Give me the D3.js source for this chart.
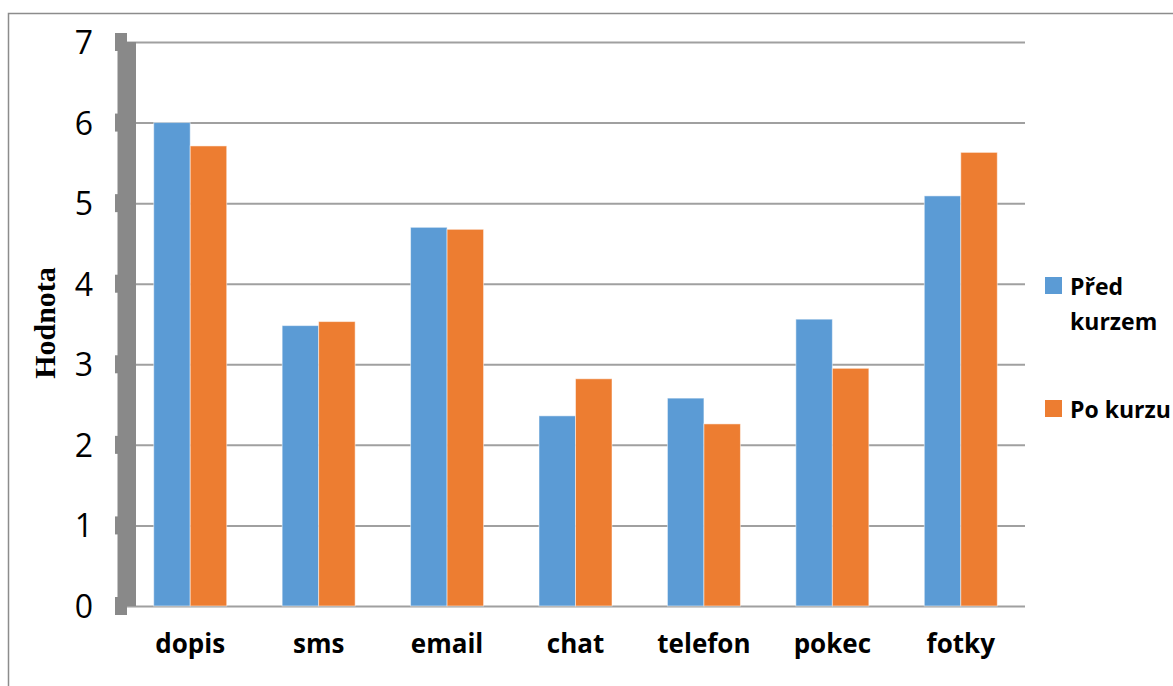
<!DOCTYPE html>
<html>
<head>
<meta charset="utf-8">
<script src="https://cdn.jsdelivr.net/npm/d3@7"></script>
<style>
  body { margin: 0; background: #fff; }
  svg { display: block; }
</style>
</head>
<body>
<div id="chart-area"></div>
<script>
// data
const categories = ["dopis", "sms", "email", "chat", "telefon", "pokec", "fotky"]
const seriesNames = ["Před kurzem", "Po kurzu"]
const predKurzem = [6.0, 3.48, 4.70, 2.36, 2.58, 3.56, 5.09]
const poKurzu = [5.71, 3.53, 4.675, 2.82, 2.26, 2.95, 5.63]
const yTicks = [0, 1, 2, 3, 4, 5, 6, 7]

const colors = ["#5B9BD5", "#ED7D31"]

const W = 1173, H = 686
const MARGIN = { LEFT: 126, RIGHT: 148, TOP: 42, BOTTOM: 80 }

const svg = d3.select("#chart-area").append("svg")
	.attr("width", W)
	.attr("height", H)

// outer frame
svg.append("rect")
	.attr("x", 8.5).attr("y", 13.5)
	.attr("width", W + 20).attr("height", H + 20)
	.attr("fill", "none")
	.attr("stroke", "#8c8c8c")
	.attr("stroke-width", 1.5)

// scales
const x = d3.scaleBand()
	.domain(categories)
	.range([MARGIN.LEFT, W - MARGIN.RIGHT])
	.padding(0)
const groupW = 73
const x1 = d3.scaleBand()
	.domain(seriesNames)
	.range([0, groupW])
const y = d3.scaleLinear()
	.domain([0, 7])
	.range([H - MARGIN.BOTTOM, MARGIN.TOP])

// gridlines
const grid = svg.append("g")
	.attr("transform", `translate(${MARGIN.LEFT}, 0)`)
	.call(d3.axisLeft(y).tickValues(yTicks).tickSize(-(W - MARGIN.RIGHT - MARGIN.LEFT)).tickFormat(""))
grid.select(".domain").remove()
grid.selectAll("line")
	.attr("stroke", "#a0a0a0")
	.attr("stroke-width", 2)

// bars
const rows = categories.map((c, i) => ({ cat: c, vals: [predKurzem[i], poKurzu[i]] }))
const groups = svg.append("g").selectAll("g")
	.data(rows)
	.join("g")
	.attr("transform", d => `translate(${x(d.cat) + (x.bandwidth() - groupW) / 2}, 0)`)
groups.selectAll("rect")
	.data(d => d.vals.map((v, j) => ({ name: seriesNames[j], v, j })))
	.join("rect")
	.attr("x", d => x1(d.name))
	.attr("width", x1.bandwidth())
	.attr("y", d => y(d.v))
	.attr("height", d => y(0) - y(d.v))
	.attr("fill", d => colors[d.j])
	.attr("stroke", "#fff")
	.attr("stroke-opacity", 0.5)
	.attr("stroke-width", 1)

// thick y axis bar with tick stubs
const axisG = svg.append("g")
axisG.selectAll(".stub")
	.data(yTicks)
	.join("rect")
	.attr("class", "stub")
	.attr("x", 115).attr("width", 12)
	.attr("y", d => y(d) - 9).attr("height", 18)
	.attr("fill", "#898989")
axisG.append("rect")
	.attr("x", 117.5).attr("width", 18.5)
	.attr("y", y(7)).attr("height", y(0) - y(7))
	.attr("fill", "#898989")

// y tick labels
const yAxis = svg.append("g")
	.attr("transform", "translate(93, 0)")
	.call(d3.axisLeft(y).tickValues(yTicks).tickSize(0).tickPadding(0).tickFormat(d3.format("d")))
yAxis.select(".domain").remove()
yAxis.selectAll("text")
	.attr("font-family", "'Open Sans', sans-serif")
	.attr("font-size", "32px")
	.attr("fill", "#000")
	.attr("dy", "0.36em")

// x labels
const xAxis = svg.append("g")
	.attr("transform", `translate(0, ${y(0)})`)
	.call(d3.axisBottom(x).tickSize(0).tickPadding(0))
xAxis.select(".domain").remove()
xAxis.selectAll("text")
	.attr("font-family", "'Open Sans', sans-serif")
	.attr("font-weight", "bold")
	.attr("font-size", "26px")
	.attr("fill", "#000")
	.attr("dy", 0)
	.attr("y", 47)

// y axis title
svg.append("text")
	.attr("transform", `translate(55, 323) rotate(-90)`)
	.attr("text-anchor", "middle")
	.attr("font-family", "'Liberation Serif', serif")
	.attr("font-weight", "bold")
	.attr("font-size", "30px")
	.text("Hodnota")

// legend
const legendItems = [
	{ lines: ["Před", "kurzem"], y: 277 },
	{ lines: ["Po kurzu"], y: 400 }
]
const legend = svg.append("g")
legendItems.forEach((d, i) => {
	legend.append("rect")
		.attr("x", 1045).attr("y", d.y)
		.attr("width", 17).attr("height", 17)
		.attr("fill", colors[i])
	const t = legend.append("text")
		.attr("x", 1070).attr("y", d.y + 18)
		.attr("font-family", "'Open Sans', sans-serif")
		.attr("font-weight", "bold")
		.attr("font-size", "23px")
	d.lines.forEach((l, k) => {
		t.append("tspan").attr("x", 1070).attr("dy", k === 0 ? 0 : 35).text(l)
	})
})
</script>
</body>
</html>
